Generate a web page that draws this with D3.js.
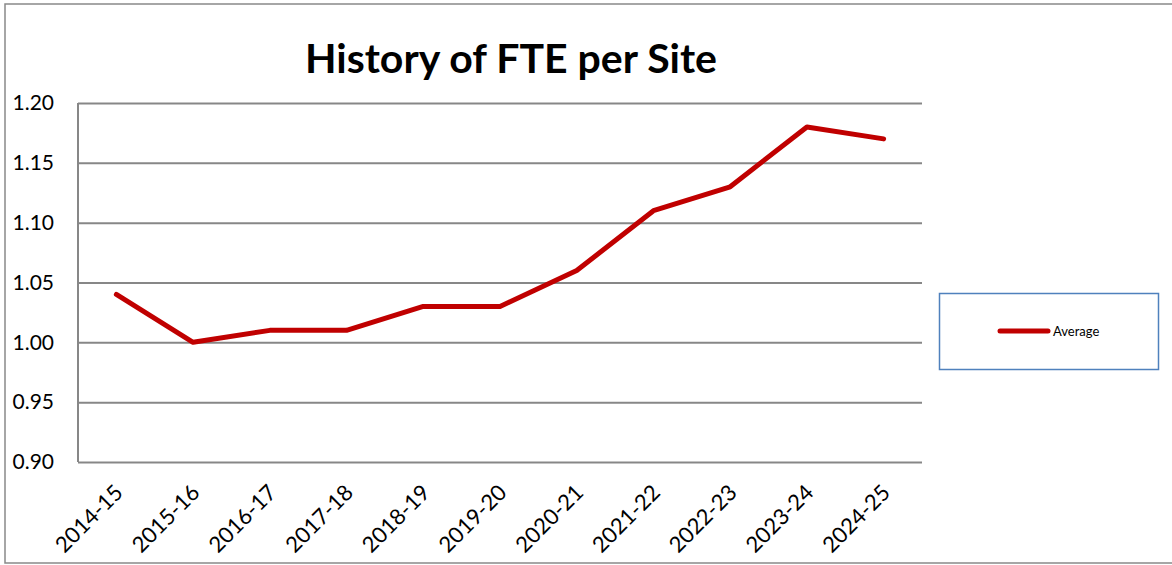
<!DOCTYPE html>
<html>
<head>
<meta charset="utf-8">
<script src="https://cdn.jsdelivr.net/npm/d3@7"></script>
<style>
  html, body { margin: 0; padding: 0; background: #fff; }
  svg { display: block; }
  text { font-family: Lato, "Liberation Sans", Arial, sans-serif; fill: #000; }
</style>
</head>
<body>
<svg id="chart" width="1172" height="565"></svg>
<script>
// FTE per site, yearly averages
const years = ["2014-15", "2015-16", "2016-17", "2017-18", "2018-19", "2019-20",
               "2020-21", "2021-22", "2022-23", "2023-24", "2024-25"];
const averageFte = [1.04, 1.00, 1.01, 1.01, 1.03, 1.03, 1.06, 1.11, 1.13, 1.18, 1.17];
const yTicks = [0.90, 0.95, 1.00, 1.05, 1.10, 1.15, 1.20];
const seriesName = "Average";
const chartTitle = "History of FTE per Site";

const svg = d3.select("#chart");
const plot = { left: 78, right: 922, top: 103, bottom: 462 };

// outer chart frame
svg.append("rect")
  .attr("x", 5).attr("y", 4).attr("width", 1180).attr("height", 559)
  .attr("fill", "none").attr("stroke", "#898989").attr("stroke-width", 1.5);

const x = d3.scaleBand().domain(years).range([plot.left, plot.right]);
const y = d3.scaleLinear().domain([0.90, 1.20]).range([plot.bottom, plot.top]);

// title
svg.append("text")
  .attr("x", 511).attr("y", 73)
  .attr("text-anchor", "middle")
  .style("font-size", "41px").style("font-weight", "bold")
  .text(chartTitle);

// horizontal gridlines with y labels
const yAxis = svg.append("g")
  .attr("transform", `translate(${plot.left},0)`)
  .call(d3.axisLeft(y).tickValues(yTicks).tickFormat(d3.format(".2f"))
    .tickSize(-(plot.right - plot.left)).tickPadding(24));
yAxis.select(".domain").remove();
yAxis.selectAll(".tick line").attr("stroke", "#878787").attr("stroke-width", 2);
yAxis.selectAll(".tick text").style("font-size", "21px").attr("fill", "#000");

// left axis line
svg.append("line")
  .attr("x1", plot.left).attr("x2", plot.left)
  .attr("y1", plot.top).attr("y2", plot.bottom)
  .attr("stroke", "#878787").attr("stroke-width", 2);

// category labels, rotated
const xAxis = svg.append("g")
  .attr("transform", `translate(0,${plot.bottom})`)
  .call(d3.axisBottom(x).tickSize(0).tickPadding(0));
xAxis.select(".domain").remove();
xAxis.selectAll(".tick text")
  .style("font-size", "22px")
  .attr("text-anchor", "end")
  .attr("dy", 0)
  .attr("transform", "translate(8,32) rotate(-45)");

// series line
const line = d3.line()
  .x((d, i) => x(years[i]) + x.bandwidth() / 2)
  .y(d => y(d));
svg.append("path")
  .datum(averageFte)
  .attr("d", line)
  .attr("fill", "none")
  .attr("stroke", "#c00000")
  .attr("stroke-width", 5)
  .attr("stroke-linejoin", "round")
  .attr("stroke-linecap", "round");

// legend
const legend = svg.append("g");
legend.append("rect")
  .attr("x", 939.5).attr("y", 293.5).attr("width", 219).attr("height", 76)
  .attr("fill", "#fff").attr("stroke", "#4f81bd").attr("stroke-width", 1.5);
legend.append("line")
  .attr("x1", 1000).attr("x2", 1048).attr("y1", 331).attr("y2", 331)
  .attr("stroke", "#c00000").attr("stroke-width", 5).attr("stroke-linecap", "round");
legend.append("text")
  .attr("x", 1053).attr("y", 336)
  .style("font-size", "13px")
  .text(seriesName);
</script>
</body>
</html>
